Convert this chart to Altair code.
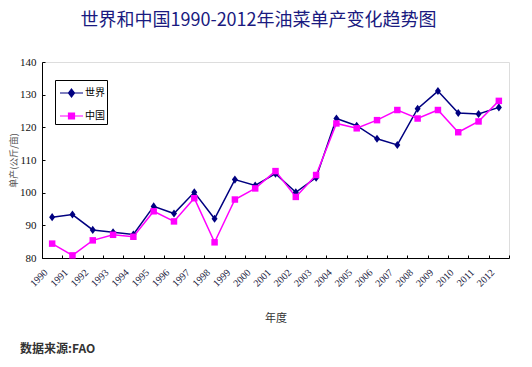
import altair as alt
import pandas as pd

years = ["1990", "1991", "1992", "1993", "1994", "1995", "1996", "1997", "1998",
         "1999", "2000", "2001", "2002", "2003", "2004", "2005", "2006", "2007",
         "2008", "2009", "2010", "2011", "2012"]
world = [92.5, 93.3, 88.6, 87.9, 87.2, 95.8, 93.6, 100.1, 92.0, 104.0, 102.2,
         105.8, 100.1, 104.6, 122.7, 120.5, 116.5, 114.6, 125.7, 131.1, 124.4,
         124.1, 126.1]
china = [84.4, 80.8, 85.4, 87.1, 86.5, 94.3, 91.2, 98.3, 84.8, 97.9, 101.3,
         106.6, 98.7, 105.4, 121.2, 119.7, 122.2, 125.3, 122.7, 125.3, 118.5,
         121.8, 128.1]
series_names = ["世界", "中国"]
colors = ["#000080", "#FF00FF"]
y_ticks_vals = [80, 90, 100, 110, 120, 130, 140]
title_text = "世界和中国1990-2012年油菜单产变化趋势图"
footer_text = "数据来源:FAO"

rows = []
for name, vals in zip(series_names, [world, china]):
    for yr, v in zip(years, vals):
        rows.append({"year": yr, "series": name, "value": v})
df = pd.DataFrame(rows)
footer_df = pd.DataFrame({"t": [footer_text]})

W, H = 467, 196
CJK = "Noto Sans CJK SC"

x_scale = alt.Scale(domain=years, paddingInner=0, paddingOuter=0)
y_scale = alt.Scale(domain=[80, 140], nice=False, zero=False)

x_main = alt.X("year:O", scale=x_scale, sort=years, title="年度",
               axis=alt.Axis(orient="bottom", labelAngle=-45, ticks=False, tickSize=0,
                             tickBand="extent", domainColor="black", domainWidth=1,
                             labelFont="Liberation Serif", labelFontSize=10,
                             labelColor="#1a1a40", labelPadding=9, labelOffset=-10,
                             titleFont=CJK, titleFontSize=11, titleColor="#333333",
                             titleFontWeight="normal", titlePadding=24, grid=False))
x_tick = alt.X("year:O", scale=x_scale, sort=years, title=None,
               axis=alt.Axis(orient="top", offset=-H, labels=False, domain=False,
                             ticks=True, tickSize=3, tickBand="extent",
                             tickColor="black", grid=False))
x_none = alt.X("year:O", scale=x_scale, sort=years, axis=None)

y_main = alt.Y("value:Q", scale=y_scale, title="单产(公斤/亩)",
               axis=alt.Axis(orient="left", values=y_ticks_vals, ticks=False, tickSize=0,
                             domainColor="black", domainWidth=1,
                             labelFont="Liberation Serif", labelFontSize=11,
                             labelColor="#111111", labelPadding=6,
                             titleFont=CJK, titleFontSize=9, titleColor="#555555",
                             titleFontWeight="normal", titlePadding=1, grid=False))
y_tick = alt.Y("value:Q", scale=y_scale, title=None,
               axis=alt.Axis(orient="right", offset=-W, labels=False, domain=False,
                             ticks=True, tickSize=3, values=y_ticks_vals,
                             tickColor="black", grid=False))
y_none = alt.Y("value:Q", scale=y_scale, axis=None)

line_world = alt.Chart(df).transform_filter(alt.datum.series == "世界").mark_line(
    strokeWidth=1.5, color=colors[0]).encode(x=x_main, y=y_main)
line_china = alt.Chart(df).transform_filter(alt.datum.series == "中国").mark_line(
    strokeWidth=1.5, color=colors[1]).encode(x=x_none, y=y_none)

diamond = "M0,-1.35L1,0L0,1.35L-1,0Z"
pts_world = alt.Chart(df).transform_filter(alt.datum.series == "世界").mark_point(
    filled=True, shape=diamond, size=36, opacity=1, color=colors[0]).encode(
    x=x_tick, y=y_tick)
pts_china = alt.Chart(df).transform_filter(alt.datum.series == "中国").mark_point(
    filled=True, shape="square", size=42, opacity=1, color=colors[1]).encode(
    x=x_none, y=y_none)

leg_paths = [
    "M-0.8,0H1.5M0.35,-0.4L0.65,0L0.35,0.4L0.05,0Z",
    "M-0.8,0H1.5M0.05,-0.3H0.65V0.3H0.05Z",
]
leg = alt.Legend(orient="none", legendX=13, legendY=18, title=None, padding=2,
                 strokeColor="black", fillColor="white", labelFont=CJK,
                 labelFontSize=10, labelColor="black", labelOffset=6,
                 symbolSize=400, symbolStrokeWidth=1.2, rowPadding=5)
legend_layer = alt.Chart(df).transform_filter("false").mark_point(
    filled=True, opacity=1).encode(
    x=x_none, y=y_none,
    color=alt.Color("series:N", scale=alt.Scale(domain=series_names, range=colors), legend=leg),
    stroke=alt.Stroke("series:N", scale=alt.Scale(domain=series_names, range=colors), legend=leg),
    shape=alt.Shape("series:N", scale=alt.Scale(domain=series_names, range=leg_paths), legend=leg),
)

footer = alt.Chart(footer_df).mark_text(
    align="left", baseline="middle", font=CJK, fontSize=12, fontWeight="bold",
    color="#333333").encode(
    x=alt.value(-22), y=alt.value(287), text="t:N")

chart = alt.layer(line_world, line_china, pts_world, pts_china, legend_layer, footer).resolve_axis(
    x="independent", y="independent"
).properties(
    width=W, height=H,
    padding={"left": 34, "top": 54, "right": 12, "bottom": 100},
    autosize=alt.AutoSizeParams(type="none"),
    title=alt.TitleParams(title_text, font=CJK, fontSize=18, color="#1a1a80",
                          fontWeight="normal", anchor="middle", frame="group",
                          dx=-17, offset=26),
).configure_view(stroke=None).configure(background="white")

chart.save("out.html", embed_options={"renderer": "svg", "actions": False})
